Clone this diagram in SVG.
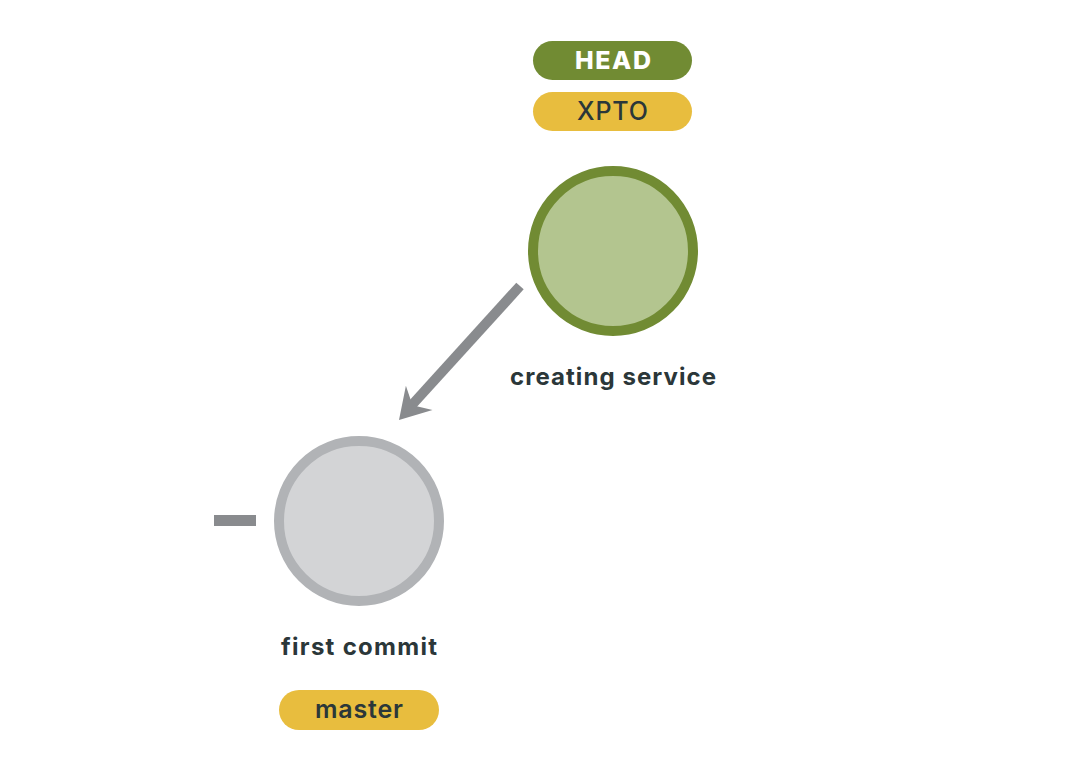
<svg xmlns="http://www.w3.org/2000/svg" width="1081" height="772" viewBox="0 0 1081 772">
<style>
.lbl{font-family:Inter,"Noto Sans",sans-serif;font-weight:700;font-size:24px;fill:#2b3739;text-anchor:middle}
.tag{font-family:Inter,"Noto Sans",sans-serif;font-size:25px;text-anchor:middle}
</style>
<rect width="1081" height="772" fill="#ffffff"/>
<g id="connectors">
<line x1="520" y1="286" x2="411" y2="406" stroke="#898b8e" stroke-width="10"/>
<polygon points="399,420 432.5,409.9 412.5,405.2 405.9,385.7" fill="#898b8e"/>
<rect x="214" y="515" width="42" height="11" fill="#898b8e"/>
</g>
<g id="head">
<rect x="533" y="41" width="159" height="39" rx="19.5" fill="#718b33"/>
<text class="tag" x="613" y="69" fill="#ffffff" font-weight="800" textLength="76">HEAD</text>
</g>
<g id="xpto">
<rect x="533" y="92" width="159" height="39" rx="19.5" fill="#e8bd3e"/>
<text class="tag" x="612.5" y="120" fill="#2b3739" font-weight="500" textLength="71">XPTO</text>
</g>
<g id="commit2">
<circle cx="613" cy="251" r="80" fill="#b3c58f" stroke="#718b33" stroke-width="10"/>
<text class="lbl" x="613" y="385" textLength="206">creating service</text>
</g>
<g id="commit1">
<circle cx="359" cy="521" r="80" fill="#d3d4d6" stroke="#b1b3b6" stroke-width="10"/>
<text class="lbl" x="359" y="655" textLength="156">first commit</text>
</g>
<g id="master">
<rect x="279" y="690" width="160" height="40" rx="20" fill="#e8bd3e"/>
<text class="tag" x="359" y="718" fill="#2b3739" font-weight="600" textLength="88">master</text>
</g>
</svg>
